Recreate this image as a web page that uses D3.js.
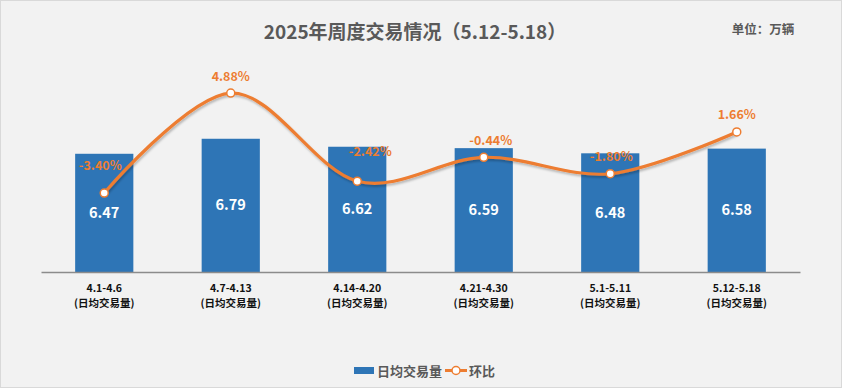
<!DOCTYPE html>
<html><head><meta charset="utf-8">
<script src="https://cdn.jsdelivr.net/npm/d3@7"></script>
<style>
html,body{margin:0;padding:0;background:#f2f2f2;}
svg{display:block;font-family:"Noto Sans CJK SC","Noto Sans",sans-serif;}
</style></head>
<body><svg id="c" width="842" height="388"></svg>
<script>
const categories = ["4.1-4.6","4.7-4.13","4.14-4.20","4.21-4.30","5.1-5.11","5.12-5.18"];
const categorySub = "(日均交易量)";
const volume = [6.47, 6.79, 6.62, 6.59, 6.48, 6.58];
const ratio = [-3.40, 4.88, -2.42, -0.44, -1.80, 1.66];
const ratioLabels = ["-3.40%","4.88%","-2.42%","-0.44%","-1.80%","1.66%"];
const seriesNames = ["日均交易量","环比"];
const titleText = "2025年周度交易情况（5.12-5.18）";
const unitText = "单位：万辆";
// label nudges (layout only)
const labelNudge = [[-4,-28],[0,-17],[13,-30],[7,-17],[1,-17],[0,-17]];

const W=842,H=388;
const blue="#2E75B6", orange="#ED7D31", grey="#595959";
const svg=d3.select("#c");
svg.append("rect").attr("x",0.5).attr("y",0.5).attr("width",W-1).attr("height",H-1)
  .attr("fill","#f2f2f2").attr("stroke","#d9d9d9");

const x=d3.scaleBand().domain(categories).range([41,800]).paddingInner(0.54).paddingOuter(0.27);
const y=d3.scaleLinear().domain([3.95,8]).range([272,82]);
const y2=d3.scaleLinear().domain([-10,6]).range([272.8,79.5]);

// title
svg.append("text").attr("x",415).attr("y",39).attr("text-anchor","middle")
  .attr("font-size",19).attr("font-weight","bold").attr("fill",grey).text(titleText);
svg.append("text").attr("x",763).attr("y",34).attr("text-anchor","middle")
  .attr("font-size",12.5).attr("font-weight","bold").attr("fill",grey).text(unitText);

// bars
svg.append("g").selectAll("rect").data(volume).join("rect")
  .attr("x",(d,i)=>x(categories[i])).attr("width",x.bandwidth())
  .attr("y",d=>y(d)).attr("height",d=>y(y.domain()[0])-y(d)).attr("fill",blue);
svg.append("g").selectAll("text").data(volume).join("text")
  .attr("x",(d,i)=>x(categories[i])+x.bandwidth()/2)
  .attr("y",d=>(y(d)+y(y.domain()[0]))/2+5)
  .attr("text-anchor","middle").attr("font-size",14.5).attr("font-weight","bold")
  .attr("fill","#fff").text(d=>d.toFixed(2));

// axis baseline
const xAxis=d3.axisBottom(x).tickSize(0).tickFormat("");
const gx=svg.append("g").attr("transform",`translate(0,${y(y.domain()[0])})`).call(xAxis);
gx.select(".domain").attr("stroke","#8c8c8c").attr("stroke-width",1.5);
const lab=svg.append("g").selectAll("g").data(categories).join("g")
  .attr("transform",d=>`translate(${x(d)+x.bandwidth()/2},0)`);
lab.append("text").attr("y",292).attr("text-anchor","middle").attr("font-size",10.5)
  .attr("font-weight","bold").attr("fill","#111").text(d=>d);
lab.append("text").attr("y",307).attr("text-anchor","middle").attr("font-size",10.5)
  .attr("font-weight","bold").attr("fill","#111").text(categorySub);

// line
const defs=svg.append("defs");
const f=defs.append("filter").attr("id","sh").attr("x","-10%").attr("y","-10%").attr("width","120%").attr("height","130%");
f.append("feDropShadow").attr("dx",1).attr("dy",2).attr("stdDeviation",1.2).attr("flood-color","#000").attr("flood-opacity",0.25);
const cx=i=>x(categories[i])+x.bandwidth()/2;
const line=d3.line().x((d,i)=>cx(i)).y(d=>y2(d)).curve(d3.curveCardinal.tension(0));
svg.append("path").datum(ratio).attr("d",line).attr("fill","none")
  .attr("stroke",orange).attr("stroke-width",3.2).attr("filter","url(#sh)");
svg.append("g").selectAll("circle").data(ratio).join("circle")
  .attr("cx",(d,i)=>cx(i)).attr("cy",d=>y2(d)).attr("r",4)
  .attr("fill","#fff").attr("stroke",orange).attr("stroke-width",1.5);
svg.append("g").selectAll("text").data(ratio).join("text")
  .attr("x",(d,i)=>cx(i)+labelNudge[i][0]).attr("y",(d,i)=>y2(d)+labelNudge[i][1]+4.5)
  .attr("text-anchor","middle").attr("font-size",12.5).attr("font-weight","bold")
  .attr("fill",orange).text((d,i)=>ratioLabels[i]);

// legend
const lg=svg.append("g");
lg.append("rect").attr("x",354).attr("y",367).attr("width",20).attr("height",7).attr("fill",blue);
lg.append("text").attr("x",377).attr("y",375.5).attr("font-size",13).attr("font-weight","bold")
  .attr("fill",grey).text(seriesNames[0]);
lg.append("line").attr("x1",445).attr("x2",467).attr("y1",370.5).attr("y2",370.5)
  .attr("stroke",orange).attr("stroke-width",3);
lg.append("circle").attr("cx",456).attr("cy",370.5).attr("r",4).attr("fill","#fff")
  .attr("stroke",orange).attr("stroke-width",1.5);
lg.append("text").attr("x",469).attr("y",375.5).attr("font-size",13).attr("font-weight","bold")
  .attr("fill",grey).text(seriesNames[1]);
</script></body></html>
